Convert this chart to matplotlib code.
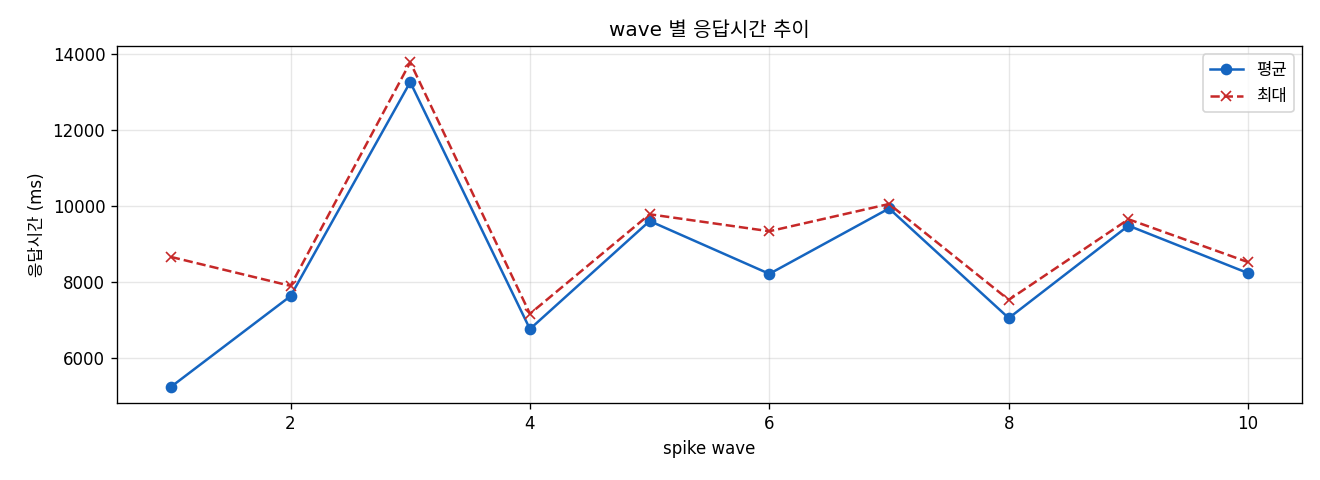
import matplotlib
matplotlib.use("Agg")
import matplotlib.pyplot as plt

plt.rcParams['font.family'] = ['DejaVu Sans', 'Noto Sans CJK KR']
plt.rcParams['axes.unicode_minus'] = False

waves = [1, 2, 3, 4, 5, 6, 7, 8, 9, 10]
avg_ms = [5239, 7626, 13250, 6761, 9600, 8211, 9930, 7049, 9478, 8229]
max_ms = [8657, 7896, 13770, 7162, 9777, 9331, 10047, 7529, 9646, 8518]

fig, ax = plt.subplots(figsize=(11, 4), dpi=120)
fig.subplots_adjust(left=0.0886, right=0.9864, top=0.904, bottom=0.160)

ax.plot(waves, avg_ms, color='#1565C0', marker='o', linestyle='-', linewidth=1.5, markersize=6, label='평균')
ax.plot(waves, max_ms, color='#C62828', marker='x', linestyle='--', linewidth=1.5, markersize=6, label='최대')

ax.set_title('wave 별 응답시간 추이', fontsize=12)
ax.set_xlabel('spike wave', fontsize=10)
ax.set_ylabel('응답시간 (ms)', fontsize=10)
ax.tick_params(labelsize=10)
ax.grid(True, alpha=0.3)
ax.legend(loc='upper right', fontsize=10)

fig.savefig('out.png', dpi=120)
